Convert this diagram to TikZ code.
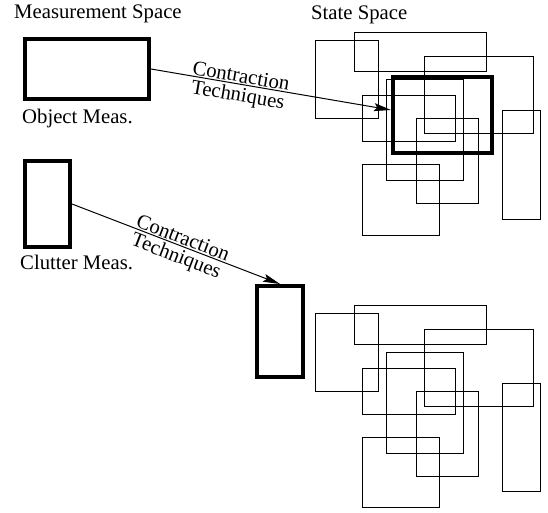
\documentclass[tikz,border=0pt]{standalone}
\usepackage{fontspec}
\setmainfont{Liberation Serif}
\usepackage{tikz}
\usetikzlibrary{arrows.meta}

\tikzset{
  meas/.style={draw, line width=4bp, inner sep=0pt},
  hyp/.style={line width=1bp},
  contract/.style={line width=1bp, -{Stealth[length=17bp, width=8bp, inset=3bp]}},
  techlabel/.style={sloped, align=center, inner sep=0pt, font=\fontsize{20.8}{19}\selectfont}
}

\begin{document}
\begin{tikzpicture}[x=1bp, y=-1bp]

\def\width{548}
\def\height{513}
\def\gap{272}

\fontsize{20.8}{25}\selectfont
\path [use as bounding box] (0,0) rectangle (\width,\height);

% TITLES
\node [anchor=base west, inner sep=0pt] (mtitle) at (14,18.5) {Measurement Space};
\node [anchor=base west, inner sep=0pt] (stitle) at (311,19.5) {State Space};

% MEASUREMENTS
\node [meas, minimum width=124bp, minimum height=60bp] (obj) at (87,69) {};
\node [anchor=base west, inner sep=0pt] (objlbl) at (22,123.5) {Object Meas.};
\node [meas, minimum width=45bp, minimum height=86bp] (clutter) at (47.5,204) {};
\node [anchor=base west, inner sep=0pt] (clutlbl) at (20,269.5) {Clutter Meas.};

% STATE SPACE HYPOTHESES
\foreach \dy in {0,\gap} {
  \foreach \xa/\ya/\xb/\yb in {315/41/378/119, 354/33/486/72, 424/57/533/134,
      386/80/463/181, 362/96/455/142, 416/119/478/204, 502/111/540/219,
      362/165/439/235}
    \draw [hyp] (\xa,\ya+\dy) rectangle (\xb,\yb+\dy);
}

% CONTRACTED SETS
\node [meas, minimum width=99bp, minimum height=76bp] (objst) at (442.5,115) {};
\node [meas, minimum width=46bp, minimum height=91bp] (clutst) at (280,331.5) {};

% CONTRACTIONS
\draw [contract] (obj.east) -- ([yshift=5bp]objst.west)
  node [techlabel, pos=0.37, yshift=-3bp] {Contraction\\Techniques};
\draw [contract] (clutter.east) -- (clutst.north)
  node [techlabel, pos=0.52, yshift=-3bp] {Contraction\\Techniques};

\end{tikzpicture}
\end{document}
